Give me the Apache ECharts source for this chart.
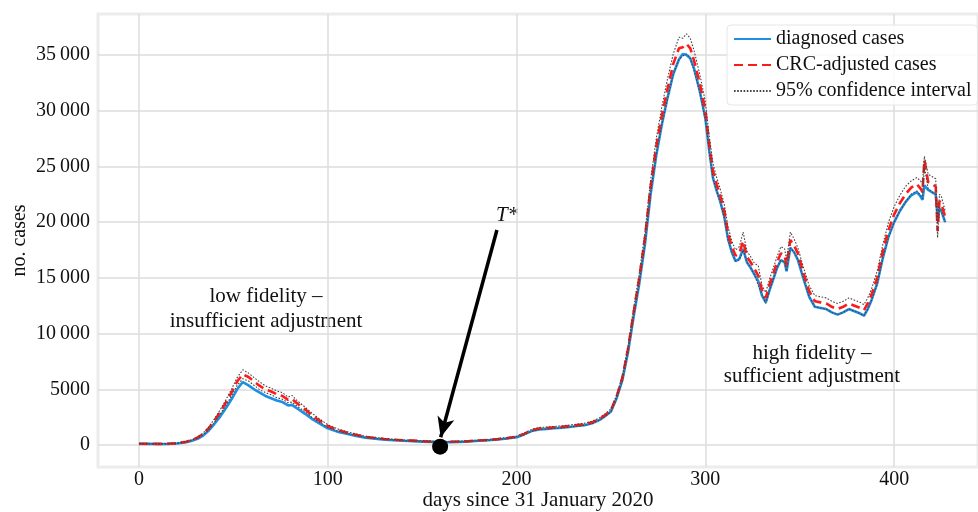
<!DOCTYPE html>
<html>
<head>
<meta charset="utf-8">
<script src="https://cdn.jsdelivr.net/npm/echarts@6/dist/echarts.min.js"></script>
<style>html,body{margin:0;padding:0;background:#fff}#c{width:978px;height:512px}</style>
</head>
<body>
<div id="c"></div>
<script>
const days = [0,5,10,15,20,25,28,31,34,37,40,43,46,49,52,55,58,61,64,67,70,73,76,79,81,84,88,92,96,100,105,110,115,120,125,130,135,140,145,150,155,160,165,170,175,180,185,190,195,200,204,208,212,216,220,224,228,232,236,240,244,247,250,253,256,259,262,265,268,271,274,277,280,283,286,288,290,292,294,297,300,302,304,306,308,310,312,314,316,318,320,322,324,326,328,330,332,334,336,338,340,342,343,345,347,349,352,355,358,361,364,367,370,373,376,379,382,384,386,388,391,394,397,400,403,406,409,412,414,415,416,418,420,422,423,424,425,427];
const diagnosed = [100,100,90,100,130,250,380,560,850,1300,1900,2550,3300,4100,5000,5650,5350,5000,4700,4400,4200,4000,3850,3550,3600,3250,2800,2300,1900,1500,1200,1000,820,650,560,480,430,380,350,300,280,250,260,280,320,380,420,500,580,700,950,1250,1400,1450,1500,1550,1620,1700,1780,1950,2250,2600,3000,4200,5800,8300,11500,14500,18000,22500,26000,28800,31200,33300,34600,35100,35000,34700,33800,31800,29300,26500,24000,22800,21800,20500,18500,17300,16500,16700,17600,16400,15900,15300,14700,13400,12800,13900,14900,15900,16600,16400,15600,17700,17300,16600,14900,13300,12400,12300,12200,11900,11700,11900,12200,12000,11800,11600,12200,13000,14500,16800,18700,20000,21000,21800,22400,22700,22300,22000,23300,22900,22700,22500,20500,21200,21000,20000];
const adjusted = [110,110,100,110,150,290,440,660,1000,1500,2200,2950,3800,4700,5700,6350,6100,5700,5300,5000,4800,4550,4400,4050,4150,3700,3200,2600,2150,1700,1350,1120,920,730,630,540,480,420,390,340,310,280,290,310,350,410,450,530,620,740,1000,1320,1480,1520,1580,1630,1700,1780,1860,2030,2340,2700,3120,4350,6000,8600,11900,15000,18600,23200,26800,29600,32000,34200,35600,35700,36000,35600,34500,32500,30000,27100,24600,23400,22300,21000,19000,17800,17000,17200,18300,16900,16400,15800,15200,13900,13200,14400,15400,16400,17200,17000,16100,18400,17900,17200,15400,13800,12900,12800,12700,12400,12200,12400,12700,12500,12300,12100,12700,13500,15000,17400,19300,20700,21700,22500,23100,23400,23000,22700,25600,23600,23400,23200,19200,21900,21600,20500];
const ciHigh = [130,130,120,130,170,320,480,720,1080,1620,2350,3150,4050,5000,6050,6750,6450,6050,5650,5300,5100,4850,4700,4300,4450,3950,3400,2800,2300,1820,1450,1200,990,790,680,590,520,460,430,380,350,320,330,350,390,450,500,580,670,800,1070,1400,1570,1610,1670,1720,1790,1870,1960,2130,2450,2820,3250,4500,6200,8850,12250,15400,19100,23800,27500,30400,32900,35100,36600,36500,36900,36500,35400,33300,30800,27800,25300,24000,22900,21600,19600,18300,17500,17800,19100,17400,16900,16300,16100,14300,13700,14900,15900,16900,17800,17600,16600,19100,18500,17700,15900,14300,13400,13300,13200,12900,12700,12900,13200,13000,12800,12600,13200,14000,15600,18000,20000,21400,22400,23200,23700,24000,23700,23400,25900,24300,24100,23900,19800,22500,22300,21000];
const ciLow = [95,95,85,95,130,260,400,600,920,1380,2050,2750,3550,4400,5350,5950,5750,5350,4950,4700,4500,4250,4100,3800,3850,3450,3000,2420,2000,1580,1250,1040,850,670,580,490,440,380,350,300,270,240,250,270,310,370,400,480,570,680,930,1240,1390,1430,1490,1540,1610,1690,1760,1930,2230,2580,2990,4200,5800,8350,11550,14600,18100,22600,26100,28800,31100,33300,34600,34900,35100,34700,33600,31700,29200,26400,23900,22800,21700,20400,18400,17300,16500,16600,17500,16400,15900,15300,14300,13500,12700,13900,14900,15900,16600,16400,15600,17700,17300,16700,14900,13300,12400,12300,12200,11900,11700,11900,12200,12000,11800,11600,12200,13000,14400,16800,18600,20000,21000,21800,22500,22800,22400,22100,25000,23000,22700,22500,18600,21300,21000,20000];
const xTicks = [0,100,200,300,400];
const yTicks = [0,5000,10000,15000,20000,25000,30000,35000];
const tStar = [159.5, -150];
const arrowStart = [189.6, 19300];
const arrowEnd = [159.8, 700];

const pair = arr => days.map((d,i)=>[d, arr[i]]);
const FONT = 'Liberation Serif';
const FS = 20;
const fmtY = v => v >= 10000 ? String(v).replace(/(\d+)(\d{3})$/, '$1\u2009$2') : String(v);

const chart = echarts.init(document.getElementById('c'), null, {renderer:'canvas'});
chart.setOption({
  animation:false,
  backgroundColor:'#fff',
  textStyle:{fontFamily:FONT},
  grid:{left:98, top:14, right:0, bottom:45, containLabel:false, outerBoundsMode:'none',
    show:true, borderColor:'#ececec', borderWidth:3, backgroundColor:'#fff'},
  xAxis:{type:'value', min:-21.7, max:444.4,
    name:'days since 31 January 2020', nameLocation:'middle', nameGap:23, nameMoveOverlap:false,
    nameTextStyle:{fontFamily:FONT, fontSize:21, color:'#111'},
    axisLine:{show:false}, axisTick:{show:false, customValues:xTicks},
    axisLabel:{customValues:xTicks, fontFamily:FONT, fontSize:FS, color:'#111', margin:3},
    splitLine:{show:true, lineStyle:{color:'#dcdcdc', width:1.5}}},
  yAxis:{type:'value', min:-1975, max:38680,
    name:'no. cases', nameLocation:'middle', nameGap:68, nameMoveOverlap:false,
    nameTextStyle:{fontFamily:FONT, fontSize:FS, color:'#111'},
    axisLine:{show:false}, axisTick:{show:false, customValues:yTicks},
    axisLabel:{customValues:yTicks, formatter:fmtY, fontFamily:FONT, fontSize:FS, color:'#111', margin:8},
    splitLine:{show:true, lineStyle:{color:'#dcdcdc', width:1.5}}},
  legend:{left:727, top:25, orient:'vertical', itemWidth:37, itemHeight:14, itemGap:4,
    data:['diagnosed cases','CRC-adjusted cases','95% confidence interval'],
    itemStyle:{opacity:0},
    textStyle:{fontFamily:FONT, fontSize:FS, color:'#111', lineHeight:22},
    backgroundColor:'rgba(255,255,255,0.85)', borderColor:'#e6e6e6', borderWidth:1, borderRadius:4, padding:[3,6,3,6]},
  series:[
    {name:'diagnosed cases', type:'line', data:pair(diagnosed), showSymbol:false, symbol:'none',
      lineStyle:{color:'#1f8fe0', width:2.6}, itemStyle:{color:'#1f8fe0'}, z:2},
    {name:'CRC-adjusted cases', type:'line', data:pair(adjusted), showSymbol:false, symbol:'none',
      lineStyle:{color:'#ff1a1a', width:2.6, type:[9,5]}, itemStyle:{color:'#ff1a1a'}, z:3},
    {name:'95% confidence interval', type:'line', data:pair(ciHigh), showSymbol:false, symbol:'none',
      lineStyle:{color:'#444', width:1.1, type:[1.6,1.6]}, itemStyle:{color:'#444'}, z:4},
    {name:'95% confidence interval', type:'line', data:pair(ciLow), showSymbol:false, symbol:'none',
      lineStyle:{color:'#444', width:1.1, type:[1.6,1.6]}, itemStyle:{color:'#444'}, z:4},
    {name:'T*', type:'scatter', data:[tStar], symbol:'circle', symbolSize:16, itemStyle:{color:'#000', opacity:1}, z:6,
      markLine:{silent:true, symbol:['none','arrow'], symbolSize:[13,20], label:{show:false},
        lineStyle:{color:'#000', width:3.5, type:'solid', opacity:1},
        data:[[{coord:arrowStart},{coord:arrowEnd}]]}}
  ],
  graphic:[
    {type:'text', x:266, y:296, style:{text:'low fidelity –', font:'21px "Liberation Serif"', fill:'#111', textAlign:'center', textVerticalAlign:'middle'}},
    {type:'text', x:266, y:321, style:{text:'insufficient adjustment', font:'21px "Liberation Serif"', fill:'#111', textAlign:'center', textVerticalAlign:'middle'}},
    {type:'text', x:812, y:353, style:{text:'high fidelity –', font:'21px "Liberation Serif"', fill:'#111', textAlign:'center', textVerticalAlign:'middle'}},
    {type:'text', x:812, y:376, style:{text:'sufficient adjustment', font:'21px "Liberation Serif"', fill:'#111', textAlign:'center', textVerticalAlign:'middle'}},
    {type:'text', x:507, y:215, style:{text:'T*', font:'italic 21px "Liberation Serif"', fill:'#111', textAlign:'center', textVerticalAlign:'middle'}}
  ]
});
</script>
</body>
</html>
